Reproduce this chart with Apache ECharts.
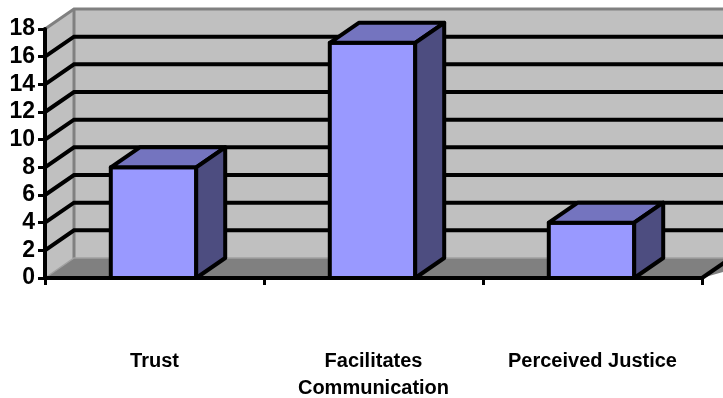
<!DOCTYPE html>
<html>
<head>
<meta charset="utf-8">
<script src="https://cdn.jsdelivr.net/npm/echarts@6/dist/echarts.min.js"></script>
<style>
  html, body { margin: 0; padding: 0; background: #ffffff; }
  #chart { width: 723px; height: 398px; }
</style>
</head>
<body>
<div id="chart"></div>
<script>
// Chart data
const categories = ['Trust', 'Facilitates\nCommunication', 'Perceived Justice'];
const values = [8, 17, 4];
// Value axis range and the gridlines drawn on the walls
const yMin = 0;
const yMax = 18;
const yStep = 2;
const gridValues = [2, 4, 6, 8, 10, 12, 14, 16];

// Perspective offset from the front plane to the back wall (pixels)
const DX = 29;
const DY = -20;

const FONT = '"Liberation Sans", Arial, sans-serif';
const WALL = '#c0c0c0';
const WALL_EDGE = '#808080';
const FLOOR = '#808080';
const FRONT = '#9999ff';
const TOP = '#7474bf';
const SIDE = '#4d4d80';

// Walls and floor of the 3D box, built from the grid rectangle
function renderWalls(params, api) {
  const cs = params.coordSys;
  const x0 = cs.x, x1 = cs.x + cs.width;
  const yT = cs.y, yB = cs.y + cs.height;
  const far = x1 + DX + 40;
  return {
    type: 'group',
    children: [
      { type: 'rect', shape: { x: x0 + DX, y: yT + DY, width: far - x0 - DX, height: cs.height },
        style: { fill: WALL } },
      { type: 'polygon', shape: { points: [[x0, yT], [x0 + DX, yT + DY], [x0 + DX, yB + DY], [x0, yB]] },
        style: { fill: WALL } },
      { type: 'polygon', shape: { points: [[x0, yB], [x0 + DX, yB + DY], [far, yB + DY], [x1, yB]] },
        style: { fill: FLOOR } },
      // wall outlines
      { type: 'polyline', shape: { points: [[x0, yT], [x0 + DX, yT + DY], [far, yT + DY]] },
        style: { stroke: WALL_EDGE, lineWidth: 3, fill: null } },
      { type: 'line', shape: { x1: x0 + DX, y1: yT + DY, x2: x0 + DX, y2: yB + DY },
        style: { stroke: WALL_EDGE, lineWidth: 3 } },
      { type: 'polyline', shape: { points: [[x0, yB], [x0 + DX, yB + DY], [far, yB + DY]] },
        style: { stroke: '#a0a0a0', lineWidth: 1.5, fill: null } },
      // right edge of the floor
      { type: 'line', shape: { x1: x1, y1: yB, x2: x1 + DX, y2: yB + DY },
        style: { stroke: '#000', lineWidth: 4 } }
    ]
  };
}

// Gridlines: diagonal across the side wall, then level along the back wall
function renderGrid(params, api) {
  const cs = params.coordSys;
  const y = api.coord([0, api.value(1)])[1];
  const x0 = cs.x;
  const far = cs.x + cs.width + DX + 40;
  return {
    type: 'polyline',
    shape: { points: [[x0, y], [x0 + DX, y + DY], [far, y + DY]] },
    style: { stroke: '#000', lineWidth: 4, fill: null }
  };
}

// 3D bar: front face, top face, side face
function renderBar(params, api) {
  const i = api.value(0);
  const v = api.value(1);
  const top = api.coord([i, v]);
  const base = api.coord([i, 0]);
  const w = api.size([1, 0])[0] * 0.39;
  const xl = top[0] - w / 2 - 1;
  const xr = xl + w;
  const yt = top[1];
  const yb = base[1];
  const edge = { stroke: '#000', lineWidth: 4, lineJoin: 'round' };
  return {
    type: 'group',
    children: [
      { type: 'polygon', shape: { points: [[xl, yt], [xr, yt], [xr, yb], [xl, yb]] },
        style: Object.assign({ fill: FRONT }, edge) },
      { type: 'polygon', shape: { points: [[xl, yt], [xl + DX, yt + DY], [xr + DX, yt + DY], [xr, yt]] },
        style: Object.assign({ fill: TOP }, edge) },
      { type: 'polygon', shape: { points: [[xr, yt], [xr + DX, yt + DY], [xr + DX, yb + DY], [xr, yb]] },
        style: Object.assign({ fill: SIDE }, edge) }
    ]
  };
}

const chart = echarts.init(document.getElementById('chart'), null, { renderer: 'canvas' });
chart.setOption({
  animation: false,
  backgroundColor: '#ffffff',
  grid: { left: 45, top: 29, width: 657, height: 249, containLabel: false, outerBoundsMode: 'none' },
  xAxis: {
    type: 'category',
    data: categories,
    boundaryGap: true,
    z: 10,
    axisLine: { show: true, lineStyle: { color: '#000', width: 4 } },
    axisTick: { show: true, length: 7, alignWithLabel: false, lineStyle: { color: '#000', width: 3 } },
    axisLabel: {
      interval: 0, margin: 70, color: '#000', fontSize: 20, fontWeight: 'bold',
      fontFamily: FONT, lineHeight: 27, verticalAlign: 'top'
    },
    splitLine: { show: false }
  },
  yAxis: {
    type: 'value',
    min: yMin, max: yMax, interval: yStep,
    z: 10,
    axisLine: { show: true, lineStyle: { color: '#000', width: 4 } },
    axisTick: { show: true, length: 7, lineStyle: { color: '#000', width: 3 } },
    axisLabel: { margin: 10, color: '#000', fontSize: 23, fontWeight: 'bold', fontFamily: FONT },
    splitLine: { show: false }
  },
  series: [
    { type: 'custom', z: 1, renderItem: renderWalls, data: [[0, 0]], silent: true },
    { type: 'custom', z: 2, renderItem: renderGrid, data: gridValues.map(v => [0, v]), silent: true },
    { type: 'custom', z: 3, renderItem: renderBar, data: values.map((v, i) => [i, v]),
      encode: { x: 0, y: 1 } }
  ]
});
</script>
</body>
</html>
